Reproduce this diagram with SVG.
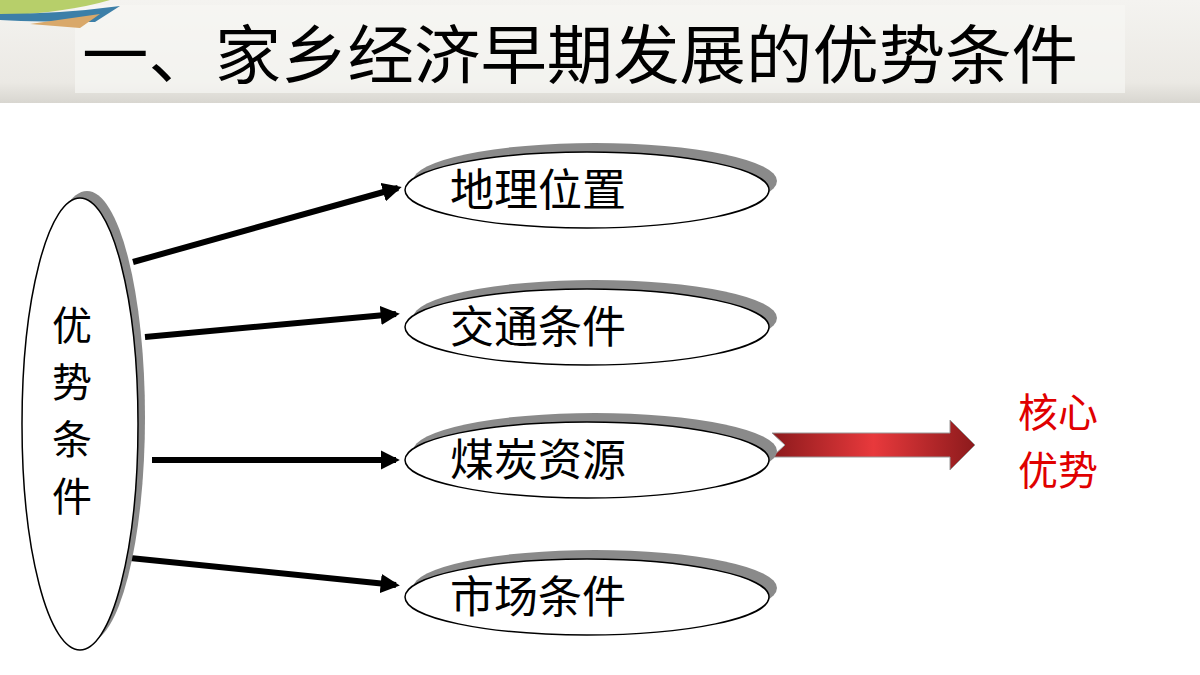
<svg xmlns="http://www.w3.org/2000/svg" width="1200" height="675" viewBox="0 0 1200 675">
<defs>
<linearGradient id="bar" x1="0" y1="0" x2="0" y2="1"><stop offset="0" stop-color="#f4f3f0"/><stop offset="0.8" stop-color="#ebe9e4"/><stop offset="1" stop-color="#d8d6d0"/></linearGradient>
<linearGradient id="red" x1="0" y1="0" x2="1" y2="0"><stop offset="0" stop-color="#8c1a1c"/><stop offset="0.5" stop-color="#e8393c"/><stop offset="1" stop-color="#8c1a1c"/></linearGradient>
<marker id="ah" viewBox="0 0 10 10" refX="8" refY="5" markerWidth="3.2" markerHeight="3.2" orient="auto"><path d="M0,0 L10,5 L0,10 z" fill="#000"/></marker>
</defs>
<style>
.sh{fill:#8a8a8a}
.el{fill:#fff;stroke:#000;stroke-width:1.5}
.t{font-family:"Noto Sans CJK SC","Liberation Sans",sans-serif;font-size:44px;fill:#000}
.v{font-family:"Noto Sans CJK SC","Liberation Sans",sans-serif;font-size:40px;fill:#000}
.c{stroke:#000;stroke-width:6;fill:none;marker-end:url(#ah)}
</style>
<rect width="1200" height="675" fill="#fff"/>
<rect x="0" y="0" width="1200" height="103" fill="url(#bar)"/>
<rect x="75" y="5" width="1050" height="88" fill="#f7f6f3" opacity="0.7"/>
<path d="M0,0 L110,0 Q70,12 0,16 z" fill="#b7cf6a"/>
<path d="M0,14 Q60,14 120,6 L95,22 Q40,22 0,20 z" fill="#3c7fa8"/>
<path d="M30,24 L100,14 L80,28 z" fill="#d9a86a"/>
<text x="82" y="78" font-family="'Noto Sans CJK SC',sans-serif" font-size="64" textLength="996" lengthAdjust="spacingAndGlyphs">一、家乡经济早期发展的优势条件</text>

<g id="connectors">
<line class="c" x1="133" y1="262" x2="398" y2="188"/>
<line class="c" x1="145" y1="337" x2="396" y2="314"/>
<line class="c" x1="152" y1="460" x2="396" y2="460"/>
<line class="c" x1="130" y1="558" x2="396" y2="585"/>
<path d="M772,433 L950,433 L950,420 L975,445 L950,470 L950,457 L772,457 L785,445 z" fill="url(#red)" stroke="#999" stroke-width="1"/>
</g>

<g id="main">
<ellipse class="sh" cx="87" cy="417" rx="58" ry="226"/>
<ellipse class="el" cx="80" cy="424" rx="58" ry="226"/>
<text class="v" x="72" y="340" text-anchor="middle">优</text>
<text class="v" x="72" y="397" text-anchor="middle">势</text>
<text class="v" x="72" y="454" text-anchor="middle">条</text>
<text class="v" x="72" y="511" text-anchor="middle">件</text>
</g>
<g id="n1"><ellipse class="sh" cx="595" cy="181" rx="182" ry="38"/><ellipse class="el" cx="587" cy="190" rx="182" ry="38"/><text class="t" x="450" y="206">地理位置</text></g>
<g id="n2"><ellipse class="sh" cx="595" cy="318" rx="182" ry="38"/><ellipse class="el" cx="587" cy="327" rx="182" ry="38"/><text class="t" x="450" y="343">交通条件</text></g>
<g id="n3"><ellipse class="sh" cx="595" cy="451" rx="182" ry="38"/><ellipse class="el" cx="587" cy="460" rx="182" ry="38"/><text class="t" x="450" y="476">煤炭资源</text></g>
<g id="n4"><ellipse class="sh" cx="595" cy="588" rx="182" ry="38"/><ellipse class="el" cx="587" cy="597" rx="182" ry="38"/><text class="t" x="450" y="613">市场条件</text></g>
<g id="core"><text class="v" x="1058" y="427" text-anchor="middle" style="fill:#e00000">核心</text><text class="v" x="1058" y="485" text-anchor="middle" style="fill:#e00000">优势</text></g>
</svg>
